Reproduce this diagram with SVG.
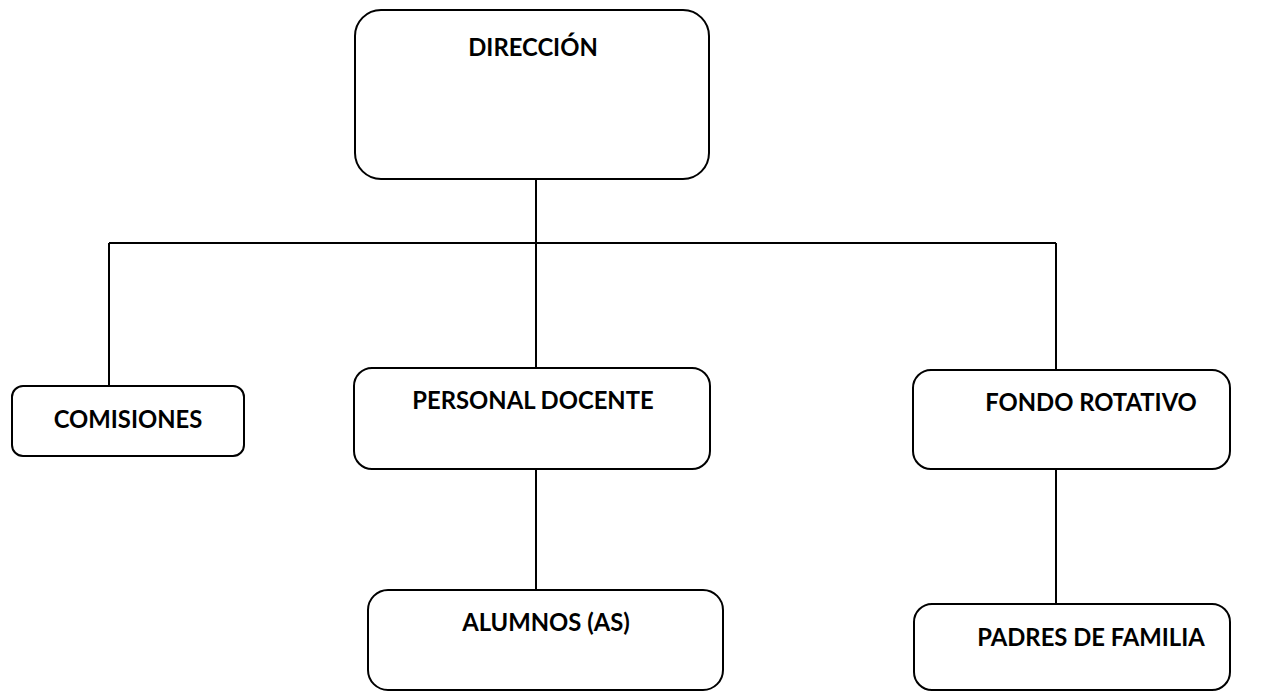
<svg xmlns="http://www.w3.org/2000/svg" width="1268" height="692" viewBox="0 0 1268 692">
<style>
.box{fill:#fff;stroke:#000;stroke-width:2}
.lbl{font-family:Lato,"Open Sans","Liberation Sans",sans-serif;font-weight:bold;font-size:23.8px;fill:#000;text-anchor:middle}
.con{stroke:#000;stroke-width:2;fill:none}
</style>
<rect width="1268" height="692" fill="#fff"/>
<g id="connectors">
<path class="con" d="M536 179V368M109 243H1056M109 243V386M1056 243V370M536 469V590M1056 469V604"/>
</g>
<g id="direccion"><rect class="box" x="355" y="10" width="354" height="169" rx="26"/><text class="lbl" x="533" y="56">DIRECCIÓN</text></g>
<g id="comisiones"><rect class="box" x="12" y="386" width="232" height="70" rx="11"/><text class="lbl" x="128" y="428">COMISIONES</text></g>
<g id="personal"><rect class="box" x="354" y="368" width="356" height="101" rx="18"/><text class="lbl" x="533" y="409">PERSONAL DOCENTE</text></g>
<g id="fondo"><rect class="box" x="913" y="370" width="317" height="99" rx="18"/><text class="lbl" x="1091" y="411">FONDO ROTATIVO</text></g>
<g id="alumnos"><rect class="box" x="368" y="590" width="355" height="100" rx="20"/><text class="lbl" x="546" y="631">ALUMNOS (AS)</text></g>
<g id="padres"><rect class="box" x="914" y="604" width="316" height="86" rx="18"/><text class="lbl" x="1091" y="646">PADRES DE FAMILIA</text></g>
</svg>
